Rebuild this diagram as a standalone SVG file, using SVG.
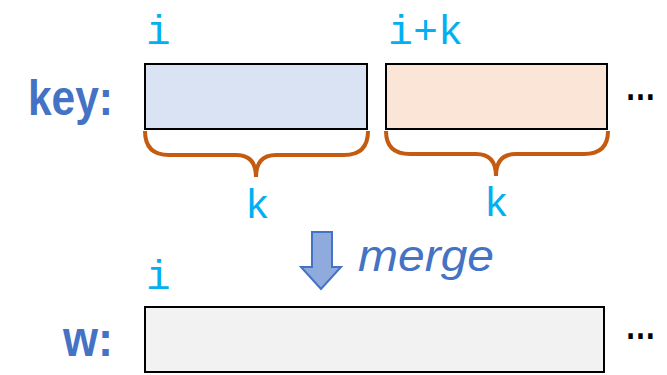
<svg xmlns="http://www.w3.org/2000/svg" width="667" height="375" viewBox="0 0 667 375">
<style>
.cell{stroke:#000;stroke-width:2}
.idx{font-family:"Liberation Mono","DejaVu Sans Mono",monospace;font-size:41px;fill:#00B0F0}
.lbl{font-family:"Liberation Sans",Arial,sans-serif;font-weight:bold;font-size:50px;fill:#4472C4}
.dots{font-family:"Liberation Sans",Arial,sans-serif;font-weight:bold;font-size:38px;fill:#000}
.brace{fill:none;stroke:#C55A11;stroke-width:4;stroke-linecap:butt}
</style>
<rect width="667" height="375" fill="#fff"/>
<g id="key-label"><text class="lbl" x="28" y="115" textLength="85" lengthAdjust="spacingAndGlyphs">key:</text></g>
<g id="key-block1">
<rect class="cell" x="145" y="64" width="222" height="65" fill="#DAE3F3"/>
<text class="idx" x="146" y="44">i</text>
</g>
<g id="key-block2">
<rect class="cell" x="386" y="64" width="221" height="65" fill="#FBE5D6"/>
<text class="idx" x="388" y="44" textLength="75" lengthAdjust="spacingAndGlyphs">i+k</text>
</g>
<g id="key-dots"><text class="dots" x="625" y="100" textLength="31" lengthAdjust="spacingAndGlyphs">…</text></g>
<g id="brace1">
<path class="brace" d="M145,131 Q145,155 169,155 L236,155 Q256,155 256,177 Q256,155 276,155 L344,155 Q368,155 368,131"/>
<text class="idx" x="245" y="218">k</text>
</g>
<g id="brace2">
<path class="brace" d="M386,131 Q386,154 410,154 L476,154 Q496,154 496,176 Q496,154 516,154 L584,154 Q608,154 608,131"/>
<text class="idx" x="484" y="216">k</text>
</g>
<g id="connectors">
<polygon points="312,232 332,232 332,267 341,267 321,289 301,267 312,267" fill="#8FAADC" stroke="#4472C4" stroke-width="2" stroke-linejoin="miter"/>
<text x="358" y="271" font-family="Liberation Sans,Arial,sans-serif" font-style="italic" font-size="44" fill="#4472C4" textLength="136" lengthAdjust="spacingAndGlyphs">merge</text>
</g>
<g id="w-label"><text class="lbl" x="63" y="356" textLength="50" lengthAdjust="spacingAndGlyphs">w:</text></g>
<g id="w-block">
<rect class="cell" x="145" y="307" width="459" height="65" fill="#F2F2F2"/>
<text class="idx" x="146" y="289">i</text>
</g>
<g id="w-dots"><text class="dots" x="625" y="339" textLength="31" lengthAdjust="spacingAndGlyphs">…</text></g>
</svg>
